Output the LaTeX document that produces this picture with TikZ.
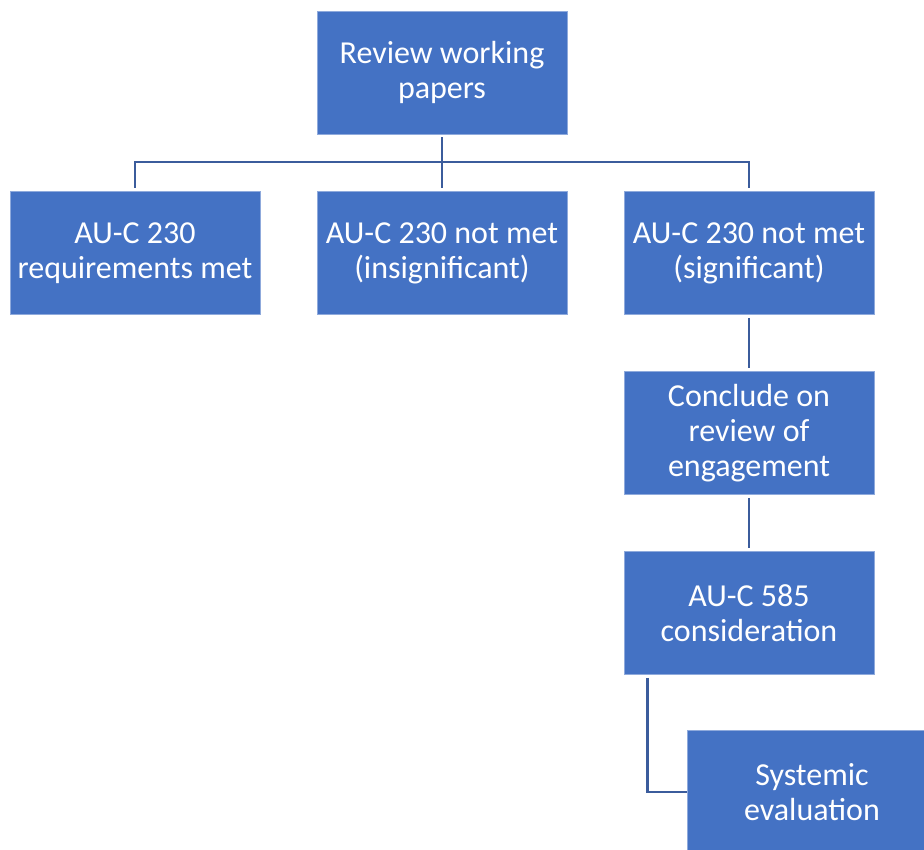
\documentclass[tikz,border=0pt]{standalone}
\usepackage{fontspec}
\setmainfont{Carlito}
\usetikzlibrary{calc}
\definecolor{boxfill}{RGB}{68,114,196}
\definecolor{boxedge}{RGB}{143,170,220}
\definecolor{linec}{RGB}{59,92,156}
\tikzset{
  box/.style={rectangle, fill=boxfill, draw=boxedge, line width=0.8pt,
    minimum width=250pt, minimum height=123pt, text=white, align=center,
    inner sep=0pt, font=\fontsize{32}{35}\selectfont},
  conn/.style={draw=linec, line width=2.3pt, shorten <=3pt, shorten >=3pt}
}
\begin{document}
\begin{tikzpicture}[x=1pt,y=-1pt]
\useasboundingbox (0,0) rectangle (924,850);
\clip (0,0) rectangle (924,850);
\node[box] (top) at (442,72.5) {Review working\\papers};
\node[box] (b1) at (135,253) {AU-C 230\\requirements met};
\node[box] (b2) at (442,253) {AU-C 230 not met\\(insignificant)};
\node[box] (b3) at (749,253) {AU-C 230 not met\\(significant)};
\node[box] (b4) at (749,433) {Conclude on\\review of\\engagement};
\node[box] (b5) at (749,613) {AU-C 585\\consideration};
\node[box] (b6) at (812,792) {Systemic\\evaluation};
\coordinate (j) at (442,162);
\draw[conn, shorten >=0pt] (top.south) -- (j);
\draw[conn, shorten <=0pt] (j) -| (b1.north);
\draw[conn, shorten <=0pt] (j) -| (b3.north);
\draw[conn, shorten <=0pt] (j) -- (b2.north);
\draw[conn] (b3.south) -- (b4.north);
\draw[conn] (b4.south) -- (b5.north);
\coordinate (s5) at ($(b5.south west)+(24,0)$);
\draw[conn, shorten >=0pt] (s5) |- (b6.west);
\end{tikzpicture}
\end{document}
